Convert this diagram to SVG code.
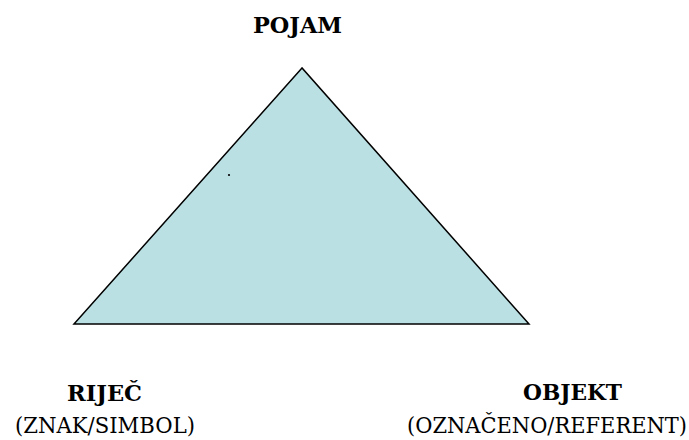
<svg xmlns="http://www.w3.org/2000/svg" width="689" height="440" viewBox="0 0 689 440">
  <defs>
    <style>
      text { font-family: 'DejaVu Serif Condensed', 'DejaVu Serif', serif; font-stretch: condensed; fill: #000; }
      .title { font-weight: bold; font-size: 23px; }
      .sub { font-weight: normal; font-size: 22px; }
      .tri { fill: #bbe0e3; stroke: #000; stroke-width: 1.5; }
    </style>
  </defs>
  <rect width="689" height="440" fill="#ffffff"/>

  <!-- semiotic triangle -->
  <g id="triangle">
    <polygon class="tri" points="302,68 74,324 529,324"/>
    <circle cx="229" cy="175" r="1.1" fill="#000"/>
  </g>

  <!-- corner labels -->
  <g id="pojam">
    <text class="title" x="253" y="33" textLength="89" lengthAdjust="spacingAndGlyphs">POJAM</text>
  </g>
  <g id="rijec">
    <text class="title" x="67" y="401" textLength="75" lengthAdjust="spacingAndGlyphs">RIJEČ</text>
    <text class="sub" x="15" y="433" textLength="180" lengthAdjust="spacingAndGlyphs">(ZNAK/SIMBOL)</text>
  </g>
  <g id="objekt">
    <text class="title" x="523" y="400" textLength="99" lengthAdjust="spacingAndGlyphs">OBJEKT</text>
    <text class="sub" x="407" y="433" textLength="280" lengthAdjust="spacingAndGlyphs">(OZNAČENO/REFERENT)</text>
  </g>
</svg>
